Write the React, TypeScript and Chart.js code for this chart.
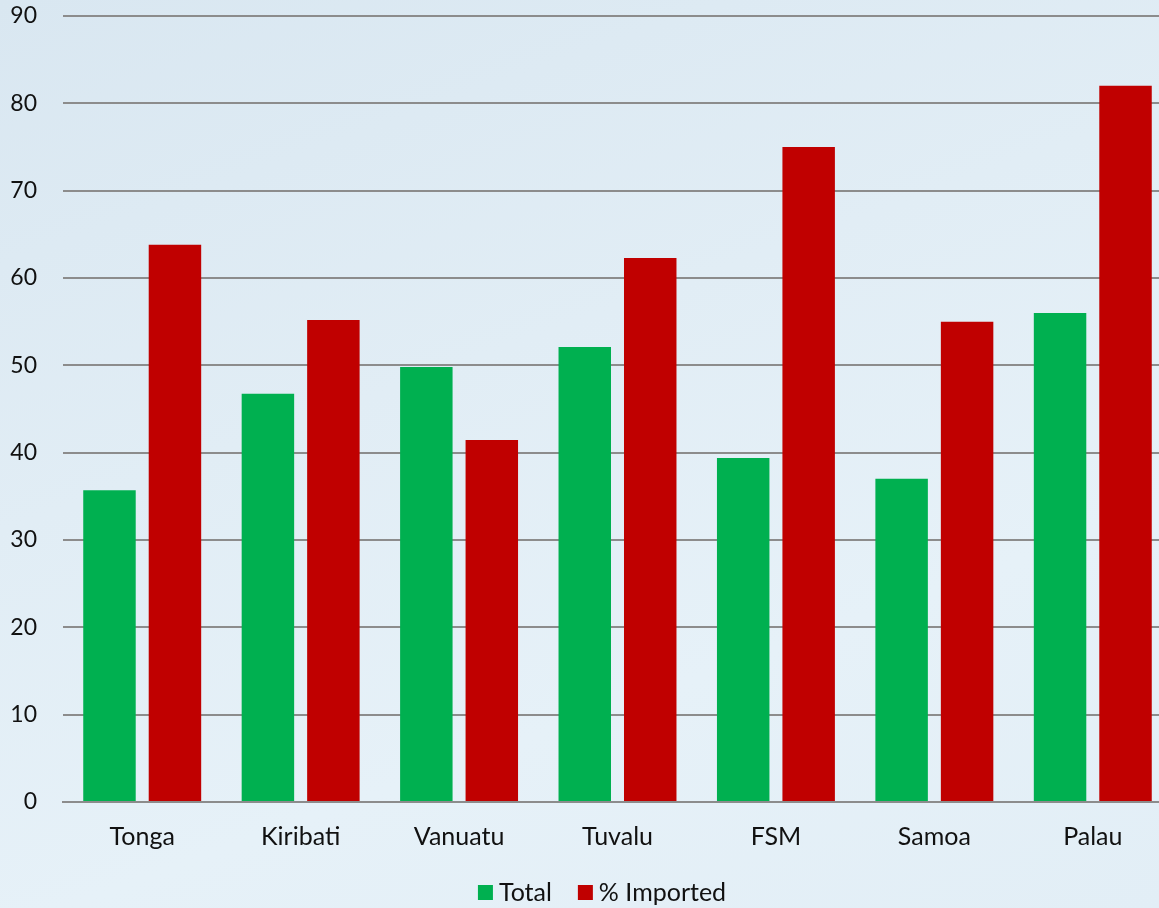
import React, { useEffect, useRef } from "react";
import { Chart, registerables } from "chart.js";

Chart.register(...registerables);

const countries = ["Tonga", "Kiribati", "Vanuatu", "Tuvalu", "FSM", "Samoa", "Palau"];
const totalValues = [35.7, 46.75, 49.8, 52.1, 39.4, 37.0, 56.0];
const importedValues = [63.8, 55.2, 41.45, 62.3, 75.0, 55.0, 82.0];
const yTicks = [0, 10, 20, 30, 40, 50, 60, 70, 80, 90];

const FONT = "Lato, 'Open Sans', sans-serif";

// Compact legend below the axis labels: small square swatch, short gap, label text.
const bottomLegend = {
  id: "bottomLegend",
  afterDraw(chart: any) {
    const ctx = chart.ctx;
    const box = 15;
    const gapText = 6;
    const gapItem = 26;
    const centerX = 602;
    const baseline = 901;
    ctx.save();
    ctx.font = `25px ${FONT}`;
    ctx.textBaseline = "alphabetic";
    ctx.textAlign = "left";
    const items = chart.data.datasets.map((ds: any) => ({
      label: ds.label as string,
      color: ds.backgroundColor as string,
      width: ctx.measureText(ds.label).width,
    }));
    const total =
      items.reduce((s: number, it: any) => s + box + gapText + it.width, 0) +
      gapItem * (items.length - 1);
    let x = centerX - total / 2;
    for (const it of items) {
      ctx.fillStyle = it.color;
      ctx.fillRect(x, baseline - 16, box, box);
      x += box + gapText;
      ctx.fillStyle = "#111";
      ctx.fillText(it.label, x, baseline);
      x += it.width + gapItem;
    }
    ctx.restore();
  },
};

export default function App() {
  const canvasRef = useRef<HTMLCanvasElement | null>(null);

  useEffect(() => {
    document.body.style.margin = "0";
    const canvas = canvasRef.current;
    if (!canvas) return;
    const chart = new Chart(canvas, {
      type: "bar",
      data: {
        labels: countries,
        datasets: [
          {
            label: "Total",
            data: totalValues,
            backgroundColor: "#00b050",
            borderWidth: 0,
          },
          {
            label: "% Imported",
            data: importedValues,
            backgroundColor: "#c00000",
            borderWidth: 0,
          },
        ],
      },
      options: {
        responsive: false,
        animation: false,
        maintainAspectRatio: false,
        layout: { padding: { top: 16, left: 0, right: 0, bottom: 0 } },
        datasets: {
          bar: { categoryPercentage: 0.8265, barPercentage: 0.8015 },
        },
        scales: {
          x: {
            grid: { display: false },
            border: { display: true, color: "#8c8c8c", width: 2 },
            ticks: {
              color: "#111",
              font: { family: FONT, size: 25 },
              padding: 12,
            },
            afterFit: (axis: any) => {
              axis.height = 106;
              axis.paddingLeft = 0;
              axis.paddingRight = 0;
            },
          },
          y: {
            min: 0,
            max: 90,
            afterBuildTicks: (axis: any) => {
              axis.ticks = yTicks.map((v) => ({ value: v }));
            },
            grid: { color: "#8c8c8c", lineWidth: 2, drawTicks: false },
            border: { display: false },
            ticks: {
              color: "#111",
              font: { family: FONT, size: 23 },
              padding: 26,
            },
            afterFit: (axis: any) => {
              axis.width = 63;
              axis.paddingTop = 0;
              axis.paddingBottom = 0;
            },
          },
        },
        plugins: {
          tooltip: { enabled: false },
          legend: { display: false },
        },
      },
      plugins: [bottomLegend],
    });
    return () => chart.destroy();
  }, []);

  return (
    <div
      style={{
        position: "fixed",
        left: 0,
        top: 0,
        width: 1159,
        height: 908,
        overflow: "hidden",
        background:
          "linear-gradient(160deg, #d9e7f1 0%, #e1edf5 40%, #e6f1f8 70%, #e2eef6 100%)",
      }}
    >
      <canvas ref={canvasRef} width={1172} height={908} style={{ display: "block" }} />
    </div>
  );
}
